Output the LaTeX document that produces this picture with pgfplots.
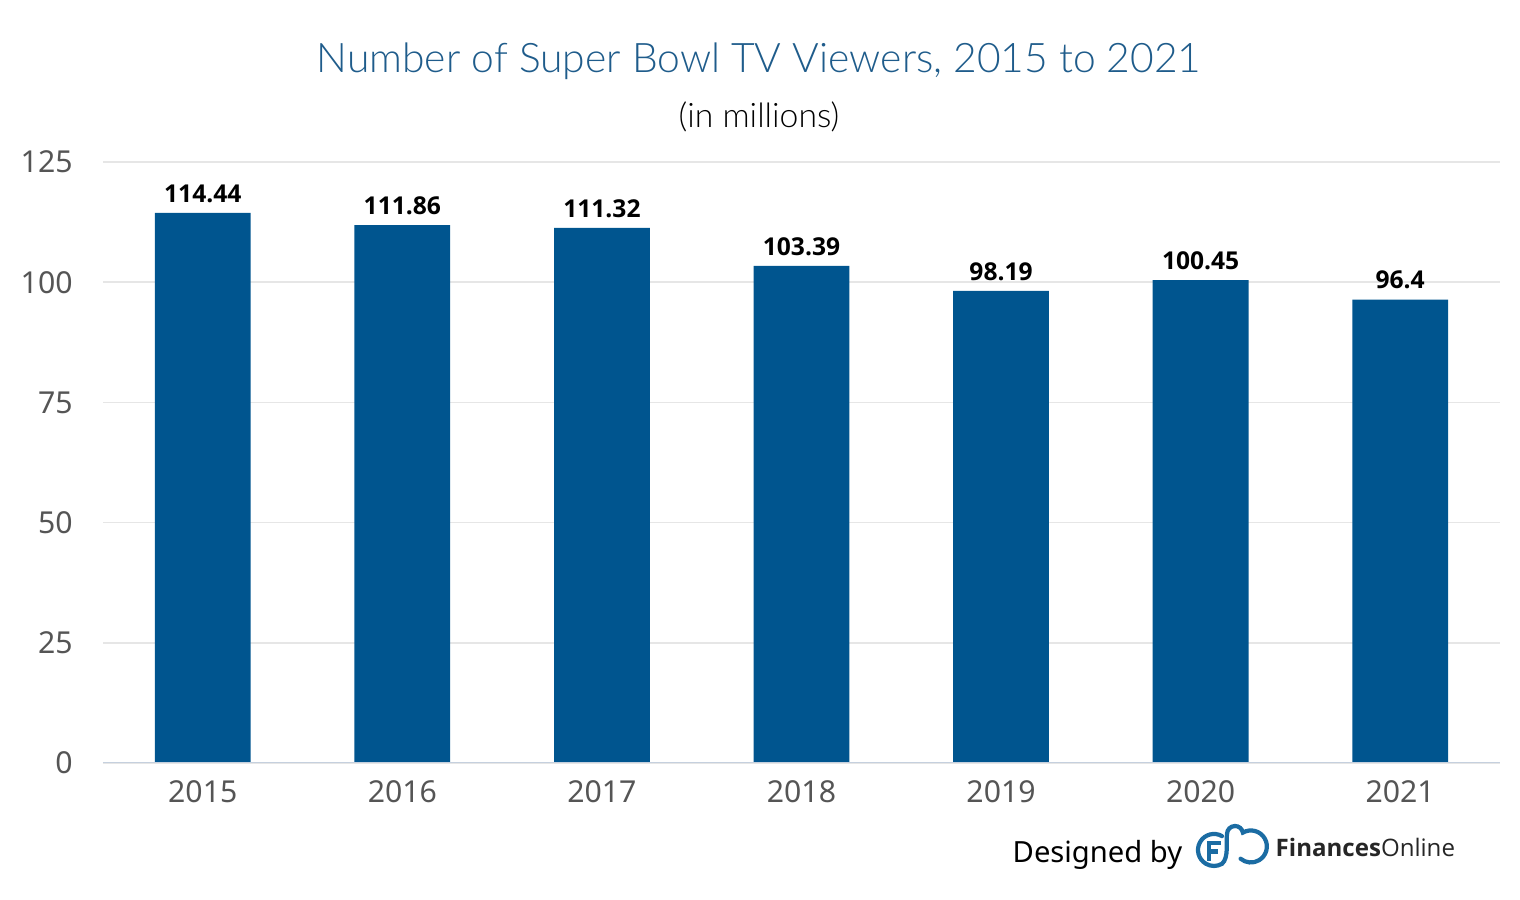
\documentclass[border=0pt]{standalone}
\usepackage{pgfplots}
\pgfplotsset{compat=1.18}
\usepackage{fontspec}
\setmainfont{Noto Sans}
\newfontfamily\titlefont{Lato Light}
\newfontfamily\labfont{Open Sans}
\definecolor{barblue}{HTML}{00558F}
\definecolor{titleblue}{HTML}{1F5C8B}
\definecolor{tickgray}{HTML}{555555}
\definecolor{gridgray}{HTML}{E6E6E6}
\definecolor{axisline}{HTML}{C5D0DE}
\definecolor{logoblue}{HTML}{1B6CA3}
\begin{document}
\begin{tikzpicture}
\useasboundingbox (0,0) rectangle (152mm,90mm);
\begin{axis}[
  at={(10.3mm,13.7mm)}, anchor=south west,
  scale only axis, width=139.7mm, height=60.1mm,
  xmin=-0.5, xmax=6.5, ymin=0, ymax=125,
  ytick={0,25,50,75,100,125},
  xtick={0,...,6},
  xticklabels={2015,2016,2017,2018,2019,2020,2021},
  major tick length=0pt,
  axis line style={draw=none},
  ymajorgrids, grid style={draw=gridgray, line width=0.5pt},
  /pgf/number format/assume math mode=true,
  tick label style={font=\fontsize{8.6}{10}\selectfont, text=tickgray},
  yticklabel style={anchor=east, xshift=-1.8mm},
  xticklabel style={anchor=north, yshift=-0.5mm},
  ybar, bar width=0.48,
  point meta=explicit symbolic,
  nodes near coords,
  every node near coord/.append style={font=\labfont\bfseries\fontsize{7}{8}\selectfont, text=black, yshift=-0.2mm},
]
\addplot[fill=barblue, draw=none] table[x=x, y=y, meta=lab] {
x y lab
0 114.44 114.44
1 111.86 111.86
2 111.32 111.32
3 103.39 103.39
4 98.19 98.19
5 100.45 100.45
6 96.4 96.4
};
\draw[axisline, line width=0.7pt] (rel axis cs:0,0) -- (rel axis cs:1,0);
\end{axis}
\node[font=\titlefont\fontsize{11.6}{14}\selectfont, text=titleblue] at (75.9mm,83.9mm) {Number of Super Bowl TV Viewers, 2015 to 2021};
\node[font=\titlefont\fontsize{9.6}{11}\selectfont, text=black] at (75.9mm,78.3mm) {(in millions)};
\node[font=\fontsize{8.3}{10}\selectfont, anchor=west, inner sep=0pt] at (101.2mm,4.5mm) {Designed by};
% logo
\begin{scope}[logoblue, line width=1.2pt, line cap=round]
  \draw (122.2mm,6.39mm) arc[start angle=60, end angle=300, radius=1.6mm]
        .. controls (122.9mm,4.2mm) and (122.6mm,5.9mm) .. (122.7mm,6.6mm)
        arc[start angle=180, end angle=10, radius=0.8mm]
        arc[start angle=120, end angle=-130, radius=1.6mm];
  \draw[line cap=butt] (120.9mm,3.9mm) -- (120.9mm,5.7mm) -- (122.1mm,5.7mm);
  \draw[line cap=butt] (120.9mm,4.85mm) -- (121.8mm,4.85mm);
\end{scope}
\node[font=\labfont\fontsize{6.85}{8}\selectfont, anchor=west, text=black!85, inner sep=0pt] at (127.5mm,5.3mm) {\textbf{Finances}Online};
\end{tikzpicture}
\end{document}
